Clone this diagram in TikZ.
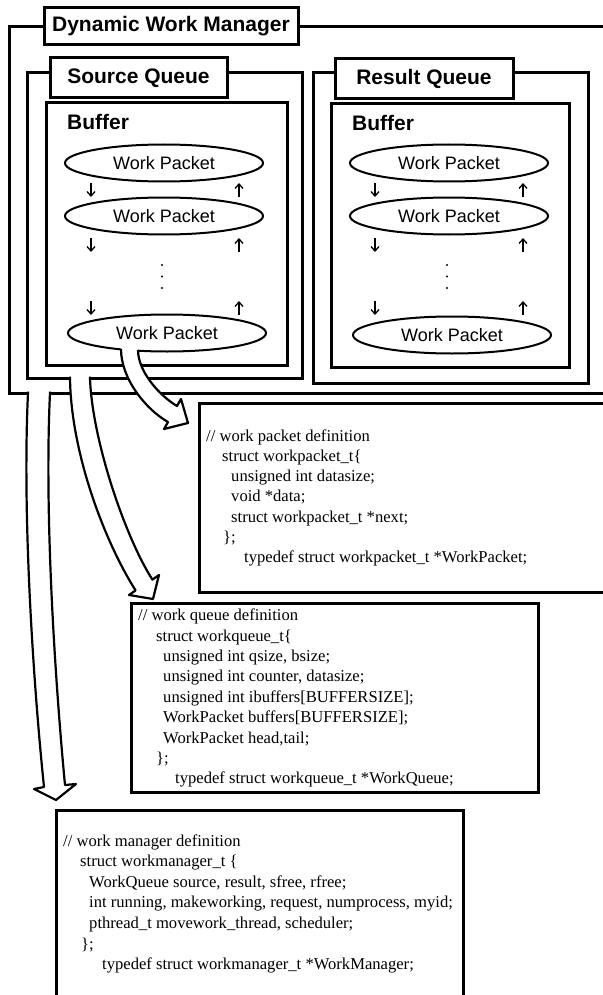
\documentclass[tikz,border=0pt]{standalone}
\usepackage{fontspec}
\setmainfont{Liberation Serif}
\newfontfamily\headfont{Liberation Sans}
\usetikzlibrary{shapes.geometric,arrows.meta}
\begin{document}
\begin{tikzpicture}[x=1pt,y=-1pt,
  frame/.style={draw, line width=3pt},
  labelbox/.style={draw, line width=3pt, fill=white, inner sep=0pt,
    font=\headfont\bfseries\fontsize{21pt}{24pt}\selectfont},
  buftitle/.style={anchor=base west, inner sep=0pt,
    font=\headfont\bfseries\fontsize{21pt}{24pt}\selectfont},
  packet/.style={ellipse, draw, line width=2pt, minimum width=198pt,
    minimum height=37pt, inner sep=0pt,
    font=\headfont\fontsize{18pt}{20pt}\selectfont},
  flowarrow/.style={line width=1.3pt, -{Straight Barb[length=4.5pt,width=8pt,line width=1.3pt]}},
  codeline/.style={anchor=base west, inner sep=0pt,
    font=\fontsize{16.6pt}{20pt}\selectfont},
  hollowfill/.style={fill=white},
  hollowline/.style={draw, line width=2.2pt, line join=round}
]
\useasboundingbox (0,0) rectangle (602,995);

% frames
\draw[frame] (9,27) rectangle (640,393);
\draw[frame] (27,73) rectangle (302,378);
\draw[frame] (313,73) rectangle (588,383);
\draw[frame] (46,103) rectangle (287,365);
\draw[frame] (331,104) rectangle (569,367);

\node[labelbox, minimum width=254pt, minimum height=37pt] (dwm) at (171,26.5) {Dynamic Work Manager};
\node[labelbox, minimum width=177pt, minimum height=40pt] (sq) at (138.5,78) {Source Queue};
\node[labelbox, minimum width=178pt, minimum height=40pt] (rq) at (424,79) {Result Queue};

\node[buftitle] (sbuf) at (67,130) {Buffer};
\node[buftitle] (rbuf) at (352,131) {Buffer};

% work packets
\node[packet] (s1) at (164,163) {Work Packet};
\node[packet] (s2) at (164,216) {Work Packet};
\node[packet] (s3) at (167,333) {Work Packet};
\node[packet] (r1) at (449,163) {Work Packet};
\node[packet] (r2) at (449,216) {Work Packet};
\node[packet] (r3) at (452,335) {Work Packet};

% small flow arrows
\foreach \yy [count=\i] in {190,245,308}{
  \coordinate (sdt\i) at (91,\yy-7);  \coordinate (sdb\i) at (91,\yy+7);
  \coordinate (sut\i) at (239,\yy-7); \coordinate (sub\i) at (239,\yy+7);
  \coordinate (rdt\i) at (375,\yy-7); \coordinate (rdb\i) at (375,\yy+7);
  \coordinate (rut\i) at (523,\yy-7); \coordinate (rub\i) at (523,\yy+7);
  \draw[flowarrow] (sdt\i) -- (sdb\i);
  \draw[flowarrow] (sub\i) -- (sut\i);
  \draw[flowarrow] (rdt\i) -- (rdb\i);
  \draw[flowarrow] (rub\i) -- (rut\i);
}
\foreach \yy in {265,276.5,288}{
  \fill (162,\yy) circle (1.2pt);
  \fill (447,\yy) circle (1.2pt);
}

% code boxes
\draw[frame] (199,403) rectangle (640,592);
\draw[frame] (131,603) rectangle (538,792);
\draw[frame] (56,810) rectangle (463,1010);

% box 1
\node[codeline] (a1) at (206,441.5) {// work packet definition};
\node[codeline] (a2) at (222,461.5) {struct workpacket\_t\{};
\node[codeline] (a3) at (231,481.5) {unsigned int datasize;};
\node[codeline] (a4) at (231,501.5) {void *data;};
\node[codeline] (a5) at (231,522) {struct workpacket\_t *next;};
\node[codeline] (a6) at (223,542) {\};};
\node[codeline] (a7) at (244,562) {typedef struct workpacket\_t *WorkPacket;};

% box 2
\node[codeline] (b1) at (138,620.5) {// work queue definition};
\node[codeline] (b2) at (156,641) {struct workqueue\_t\{};
\node[codeline] (b3) at (163,661.3) {unsigned int qsize, bsize;};
\node[codeline] (b4) at (163,681.7) {unsigned int counter, datasize;};
\node[codeline] (b5) at (163,702) {unsigned int ibuffers[BUFFERSIZE];};
\node[codeline] (b6) at (163,722.5) {WorkPacket buffers[BUFFERSIZE];};
\node[codeline] (b7) at (163,743) {WorkPacket head,tail;};
\node[codeline] (b8) at (156,763.3) {\};};
\node[codeline] (b9) at (175,783.7) {typedef struct workqueue\_t *WorkQueue;};

% box 3
\node[codeline] (c1) at (63,846.5) {// work manager definition};
\node[codeline] (c2) at (80,866.5) {struct workmanager\_t \{};
\node[codeline] (c3) at (89,887) {WorkQueue source, result, sfree, rfree;};
\node[codeline] (c4) at (89,907.5) {int running, makeworking, request, numprocess, myid;};
\node[codeline] (c5) at (89,928) {pthread\_t movework\_thread, scheduler;};
\node[codeline] (c6) at (81,949) {\};};
\node[codeline] (c7) at (102,969.5) {typedef struct workmanager\_t *WorkManager;};

% hollow arrow A (packet -> box 1)
\path[hollowfill] (121,346) .. controls (121,379) and (146,409.5) .. (168,422)
  -- (164,429) -- (188,423) -- (181,399) -- (177,406)
  .. controls (160,396) and (138,372) .. (138,346) -- cycle;
\path[hollowline] (121,349) .. controls (121,379) and (146,409.5) .. (168,422)
  -- (164,429) -- (188,423) -- (181,399) -- (177,406)
  .. controls (160,396) and (138,372) .. (138,350);

% hollow arrow B (source queue -> box 2)
\path[hollowfill] (70,375) -- (70,378) .. controls (71,455) and (106,544) .. (135.6,590.4)
  -- (129,595) -- (153,599) -- (159,575) -- (152.4,579.6)
  .. controls (125.4,537.6) and (92,440) .. (90,378) -- (90,375) -- cycle;
\path[hollowline] (70,376.5) -- (70,378) .. controls (71,455) and (106,544) .. (135.6,590.4)
  -- (129,595) -- (153,599) -- (159,575) -- (152.4,579.6)
  .. controls (125.4,537.6) and (92,440) .. (90,378) -- (90,376.5);

% hollow arrow C (manager -> box 3)
\path[hollowfill] (28,390) -- (28,393) .. controls (22,520) and (34,690) .. (44,787)
  -- (34,789) -- (56,800) -- (76,784) -- (65,785)
  .. controls (56,690) and (44,520) .. (50,393) -- (50,390) -- cycle;
\path[hollowline] (28,391.5) -- (28,393) .. controls (22,520) and (34,690) .. (44,787)
  -- (34,789) -- (56,800) -- (76,784) -- (65,785)
  .. controls (56,690) and (44,520) .. (50,393) -- (50,391.5);
\end{tikzpicture}
\end{document}
